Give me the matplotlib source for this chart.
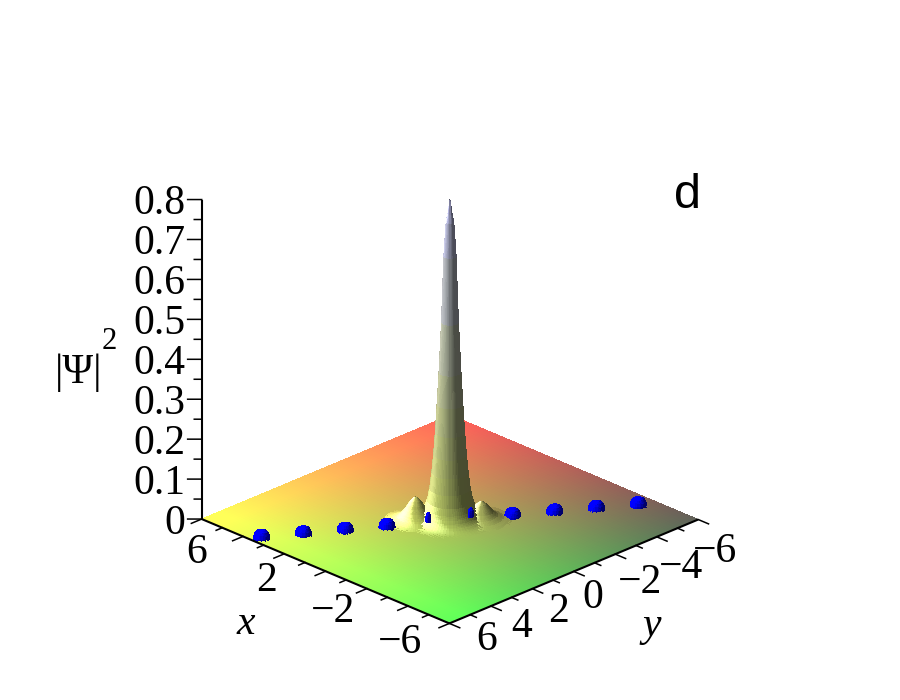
import numpy as np
import matplotlib
matplotlib.use('Agg')
import matplotlib.pyplot as plt
from mpl_toolkits.mplot3d import proj3d
from mpl_toolkits.mplot3d.art3d import Poly3DCollection

# heights, ring by ring, no formula behind them
main_r = [0, .03, .07, .13, .21, .29, .375, .44, .5, .56, .62, .69, .77, .81, .85, .89, .93, .97, 1.0, 1.04, 1.08, 1.12, 1.16, 1.2, 1.24, 1.28, 1.32, 1.36, 1.4, 1.45, 1.5, 1.55, 1.6]
main_z = [.8, .785, .765, .745, .66, .495, .37, .29, .22, .165, .12, .08, .05, .042, .034, .028, .023, .019, .016, .013, .0105, .0085, .007, .0055, .0043, .0034, .0026, .002, .0015, .001, .0006, .0003, 0]

side_x = [.77, -.77]
side_y = [.89, -.75]
side_r = [[0, .03, .06, .09, .12, .16, .2, .25, .3, .35, .4, .45, .5, .56, .62, .68, .75, .82, .9, .97, 1.05],
          [0, .03, .06, .09, .12, .16, .2, .25, .3, .35, .4, .45, .5, .56, .62, .68, .75, .82, .9, .97, 1.05]]
side_z = [[.058, .0575, .056, .054, .052, .049, .045, .04, .034, .029, .024, .02, .016, .012, .009, .007, .005, .0033, .002, .001, 0],
          [.045, .0445, .043, .0415, .040, .038, .035, .031, .027, .023, .019, .016, .013, .01, .008, .006, .004, .003, .002, .001, 0]]

dot_x = [3.43, 2.63, 1.83, 1.03, -1.37, -2.17, -2.97, -3.77]
dot_y = [5.67, 4.45, 3.23, 2.01, -1.67, -2.89, -4.11, -5.33]
dome_r = [.28, .27, .24, .19, .11, 0]
dome_z = [0, .006, .012, .017, .02, .021]

# the two dots next to the peak only show as slivers beside it
sliver_x = [.41, -.33]
sliver_y = [.64, -.68]
sliver_r = [.09, .088, .078, .062, .036, 0]
sliver_z = [0, .006, .012, .017, .02, .021]

z_major = [0, .1, .2, .3, .4, .5, .6, .7, .8]
z_minor = [.05, .15, .25, .35, .45, .55, .65, .75]
z_labels = ['0', '0.1', '0.2', '0.3', '0.4', '0.5', '0.6', '0.7', '0.8']
x_major = [6, 4, 2, 0, -2, -4, -6]
x_minor = [5, 3, 1, -1, -3, -5]
x_labelled = [6, 2, -2, -6]
y_major = [6, 4, 2, 0, -2, -4, -6]
y_minor = [5, 3, 1, -1, -3, -5]
y_labelled = [6, 4, 2, 0, -2, -4, -6]

serif = ['Liberation Serif', 'DejaVu Serif']
fs = 30
ZS = 15.0   # z stretched like the cube of the box, used for lighting only

left_dir = np.array([1, 1, 0]) / np.sqrt(2)
cam_dir = np.array([-1, 1, 0]) / np.sqrt(2)
up_dir = np.array([0, 0, 1])
light = .66 * left_dir + .27 * cam_dir + .70 * up_dir


def rings(cx, cy, radii, heights, nth=72):
    th = np.linspace(0, 2 * np.pi, nth + 1)
    quads = []
    for i in range(len(radii) - 1):
        for j in range(nth):
            quads.append([
                (cx + radii[i] * np.cos(th[j]), cy + radii[i] * np.sin(th[j]), heights[i]),
                (cx + radii[i + 1] * np.cos(th[j]), cy + radii[i + 1] * np.sin(th[j]), heights[i + 1]),
                (cx + radii[i + 1] * np.cos(th[j + 1]), cy + radii[i + 1] * np.sin(th[j + 1]), heights[i + 1]),
                (cx + radii[i] * np.cos(th[j + 1]), cy + radii[i] * np.sin(th[j + 1]), heights[i]),
            ])
    return quads


def lit(quads, zscale, dome=False):
    q = np.array(quads, dtype=float)
    p = q * np.array([1, 1, zscale])
    n = np.cross(p[:, 2] - p[:, 0], p[:, 3] - p[:, 1])
    n[n[:, 2] < 0] *= -1
    n /= np.linalg.norm(n, axis=1, keepdims=True) + 1e-12
    d = np.clip(n @ light, 0, 1)
    s = .42 + .82 * d
    mid = q.mean(axis=1)
    if dome:
        base = np.tile([0, 0, 1.0], (len(q), 1))
        return np.clip(base * s[:, None], 0, 1)
    t = mid[:, 2] / .8
    r = .38 + .67 * (mid[:, 0] + 6) / 12
    g = .38 + .67 * (mid[:, 1] + 6) / 12
    b = .35 + .55 * t
    base = np.column_stack([r, g, b])
    w = 1.6 * np.clip(d - .72, 0, 1)
    return np.clip(base * s[:, None] + w[:, None], 0, 1)


floor_edges = np.linspace(-6, 6, 121)
floor = []
for a in range(120):
    for c in range(120):
        x0, x1 = floor_edges[a], floor_edges[a + 1]
        y0, y1 = floor_edges[c], floor_edges[c + 1]
        floor.append([(x0, y0, 0), (x1, y0, 0), (x1, y1, 0), (x0, y1, 0)])

surface = rings(0, 0, main_r, main_z)
for k in range(2):
    surface += rings(side_x[k], side_y[k], side_r[k], side_z[k])

domes = []
for k in range(len(dot_x)):
    domes += rings(dot_x[k], dot_y[k], dome_r, dome_z, nth=28)

slivers = []
for k in range(len(sliver_x)):
    slivers += rings(sliver_x[k], sliver_y[k], sliver_r, sliver_z, nth=16)

all_polys = floor + surface + domes
all_cols = np.vstack([lit(floor, ZS), lit(surface, ZS), lit(domes, ZS, dome=True)])

fig = plt.figure(figsize=(9, 7), dpi=100)
ax = fig.add_axes([-9.5 / 900, -19 / 700, 1, 1], projection='3d', computed_zorder=False)
ax.set_proj_type('ortho')
ax.view_init(elev=24.8, azim=135.13)
ax.set_xlim(-6, 6)
ax.set_ylim(-6, 6)
ax.set_zlim(0, .8)
ax.set_box_aspect((1, 1, 1.0025), zoom=.844)
ax.set_axis_off()

pc = Poly3DCollection(all_polys, facecolors=all_cols, edgecolors='none', linewidths=0,
                      antialiased=False, zsort='average', zorder=1)
ax.add_collection3d(pc)
pc2 = Poly3DCollection(slivers, facecolors=lit(slivers, ZS, dome=True), edgecolors='none', linewidths=0,
                       antialiased=False, zsort='average', zorder=2)
ax.add_collection3d(pc2)

# axes lines
lk = dict(color='black', lw=1.5, zorder=3, solid_capstyle='butt')
ax.plot([6, 6], [6, 6], [0, .8], **lk)
ax.plot([6, -6], [6, 6], [0, 0], **lk)
ax.plot([-6, -6], [6, -6], [0, 0], **lk)

tk = dict(color='black', lw=1.1, zorder=3)
for z in z_major:
    ax.plot([6, 6 + .34], [6, 6 + .34], [z, z], **tk)
for z in z_minor:
    ax.plot([6, 6 + .18], [6, 6 + .18], [z, z], **tk)
for v in x_major:
    ax.plot([v, v], [6, 6.5], [0, 0], **tk)
for v in x_minor:
    ax.plot([v, v], [6, 6.3], [0, 0], **tk)
for v in y_major:
    ax.plot([-6, -6.5], [v, v], [0, 0], **tk)
for v in y_minor:
    ax.plot([-6, -6.3], [v, v], [0, 0], **tk)


def put(x, y, z, s, dx, dy, **kw):
    X, Y, _ = proj3d.proj_transform(x, y, z, ax.get_proj())
    kw.setdefault('ha', 'center')
    kw.setdefault('family', serif)
    kw.setdefault('fontsize', fs)
    ax.annotate(s, (X, Y), xytext=(dx, dy), textcoords='offset pixels',
                va='center_baseline', annotation_clip=False, **kw)


for z, s in zip(z_major, z_labels):
    put(6, 6, z, s, -16, 0, ha='right')

x_off = [(-5, -29), (-18, -22), (-34, -19), (-49, -15)]
for v, off in zip(x_labelled, x_off):
    put(v, 6, 0, str(v).replace('-', '\u2212'), off[0], off[1])

y_off = [(37, -12), (31, -16), (26, -18), (19, -22), (25, -24), (24, -26), (17, -28)]
for v, off in zip(y_labelled, y_off):
    put(-6, v, 0, str(v).replace('-', '\u2212'), off[0], off[1])

put(6, 6, 0, 'x', 44, -100, style='italic')
put(-6, -6, 0, 'y', -46, -102, style='italic')

put(6, 6, .4, '|\u03a8|', -123, -9)
put(6, 6, .4, '2', -92, 21, fontsize=22)

fig.text(687 / 900, 1 - 195 / 700, 'd', family=['Liberation Sans', 'DejaVu Sans'], fontsize=35,
         ha='center', va='center')

fig.savefig('out.png', dpi=100, facecolor='white')
